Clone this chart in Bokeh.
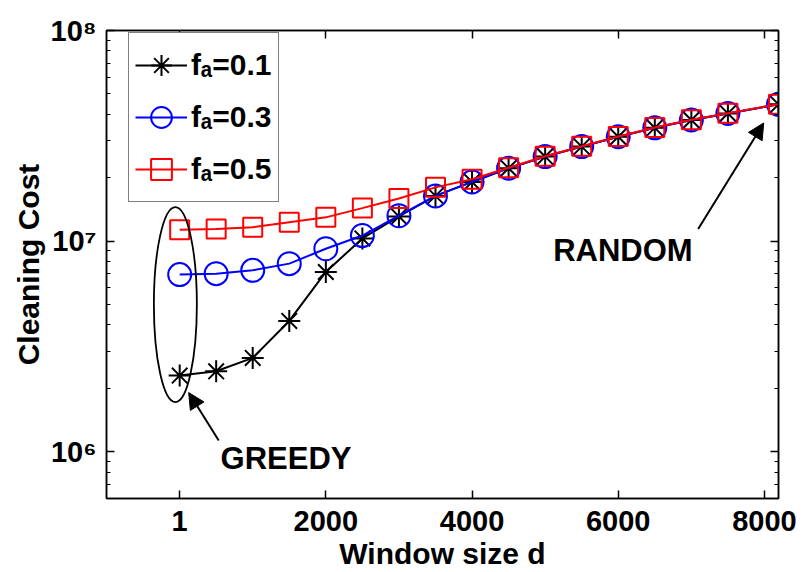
from bokeh.plotting import figure
from bokeh.models import (FixedTicker, LogAxis, LinearAxis, Legend, LegendItem,
                          Label, Arrow, NormalHead, Range1d)
from bokeh.embed import file_html
from bokeh.resources import INLINE

# ---------------- data ----------------
window_size = [1, 500, 1000, 1500, 2000, 2500, 3000, 3500, 4000,
               4500, 5000, 5500, 6000, 6500, 7000, 7500, 8192]
cost_fa_01 = [2.30e6, 2.41e6, 2.79e6, 4.18e6, 7.14e6, 1.03e7, 1.31e7, 1.64e7, 1.91e7,
              2.22e7, 2.52e7, 2.81e7, 3.13e7, 3.45e7, 3.76e7, 4.04e7, 4.46e7]
cost_fa_03 = [6.94e6, 7.01e6, 7.27e6, 7.82e6, 9.20e6, 1.063e7, 1.32e7, 1.64e7, 1.91e7,
              2.22e7, 2.52e7, 2.81e7, 3.13e7, 3.45e7, 3.76e7, 4.04e7, 4.46e7]
cost_fa_05 = [1.134e7, 1.143e7, 1.164e7, 1.229e7, 1.297e7, 1.435e7, 1.594e7, 1.80e7, 1.966e7,
              2.23e7, 2.53e7, 2.82e7, 3.14e7, 3.46e7, 3.77e7, 4.05e7, 4.47e7]
series_labels = ["f\u2090=0.1", "f\u2090=0.3", "f\u2090=0.5"]

x_ticks = [1, 2000, 4000, 6000, 8000]
y_ticks = [1e6, 1e7, 1e8]
y_tick_labels = ["10\u2076", "10\u2077", "10\u2078"]
x_label = "Window size d"
y_label = "Cleaning Cost"

# annotation anchors (data coordinates)
greedy_text = ("GREEDY", 560, 9.3e5)
greedy_arrow = (535, 1.13e6, 124, 1.91e6)
random_text = ("RANDOM", 5110, 9.0e6)
random_arrow = (7093, 1.143e7, 7990, 3.64e7)
greedy_ellipse = (-58, 5.0e6)

FONT = "Liberation Sans"

p = figure(width=802, height=572, y_axis_type="log",
           x_range=Range1d(-1000, 8192), y_range=Range1d(6e5, 1e8),
           output_backend="svg", toolbar_location=None,
           min_border_left=106, min_border_right=24,
           min_border_top=30, min_border_bottom=70)
p.xgrid.visible = False
p.ygrid.visible = False
p.outline_line_color = "black"
p.outline_line_width = 1.5
p.background_fill_color = "white"
p.border_fill_color = "white"

yminor = [m * 10 ** k for k in (5, 6, 7) for m in range(2, 10)]
xt = FixedTicker(ticks=x_ticks, minor_ticks=[])
yt = FixedTicker(ticks=y_ticks, minor_ticks=yminor)


def style_axis(ax):
    ax.axis_line_color = "black"
    ax.axis_line_width = 1.5
    ax.major_tick_line_color = "black"
    ax.major_tick_line_width = 1.5
    ax.minor_tick_line_color = "black"
    ax.minor_tick_line_width = 1.2
    ax.major_tick_in = 8
    ax.major_tick_out = 0
    ax.minor_tick_in = 4
    ax.minor_tick_out = 0
    ax.major_label_text_font = FONT
    ax.major_label_text_font_style = "bold"
    ax.major_label_text_font_size = "29px"
    ax.major_label_text_color = "black"
    ax.axis_label_text_font = FONT
    ax.axis_label_text_font_style = "bold"
    ax.axis_label_text_font_size = "30px"
    ax.axis_label_text_color = "black"


p.xaxis.ticker = xt
p.yaxis.ticker = yt
for ax in p.xaxis:
    style_axis(ax)
    ax.axis_label = x_label
    ax.major_label_standoff = 12
    ax.axis_label_standoff = 3
for ax in p.yaxis:
    style_axis(ax)
    ax.axis_label = y_label
    ax.major_label_standoff = 10
    ax.axis_label_standoff = 3
    ax.major_label_overrides = {t: l for t, l in zip(y_ticks, y_tick_labels)}

# mirrored tick marks on the right and top (no labels)
ax_r = LogAxis(ticker=yt)
style_axis(ax_r)
ax_r.major_label_overrides = {t: "" for t in y_ticks}
p.add_layout(ax_r, "right")
ax_t = LinearAxis(ticker=xt)
style_axis(ax_t)
ax_t.major_label_overrides = {t: "" for t in x_ticks}
p.add_layout(ax_t, "above")

# ---------------- series ----------------
specs = [
    (cost_fa_01, "black", "asterisk", 22),
    (cost_fa_03, "#0000ff", "circle", 23),
    (cost_fa_05, "#ff0000", "square", 19),
]
items = []
for (ys, col, mk, sz), lab in zip(specs, series_labels):
    lr = p.line(window_size, ys, line_color=col, line_width=2)
    sr = p.scatter(window_size, ys, marker=mk, size=sz, line_color=col,
                   fill_color=None, line_width=2)
    items.append(LegendItem(label=lab, renderers=[lr, sr]))

legend = Legend(items=items, location=(22, 296))
legend.border_line_color = "black"
legend.border_line_width = 1.5
legend.background_fill_color = "white"
legend.background_fill_alpha = 1
legend.label_text_font = FONT
legend.label_text_font_style = "bold"
legend.label_text_font_size = "30px"
legend.label_text_color = "black"
legend.glyph_width = 52
legend.glyph_height = 52
legend.label_height = 52
legend.label_standoff = 4
legend.padding = 6
legend.spacing = 0
legend.margin = 0
p.add_layout(legend, "center")

# ---------------- annotations ----------------
p.ellipse(x=[greedy_ellipse[0]], y=[greedy_ellipse[1]], width=43, height=195,
          width_units="screen", height_units="screen",
          fill_color=None, line_color="black", line_width=1.8)

for (x0, y0, x1, y1) in (greedy_arrow, random_arrow):
    p.add_layout(Arrow(x_start=x0, y_start=y0, x_end=x1, y_end=y1,
                       line_color="black", line_width=2,
                       end=NormalHead(size=16, fill_color="black", line_color="black")))

for (txt, tx, ty) in (greedy_text, random_text):
    p.add_layout(Label(x=tx, y=ty, text=txt, text_font=FONT, text_font_style="bold",
                       text_font_size="31px", text_color="black",
                       text_baseline="middle", text_align="left"))

open("out.html", "w").write(file_html(p, INLINE))
